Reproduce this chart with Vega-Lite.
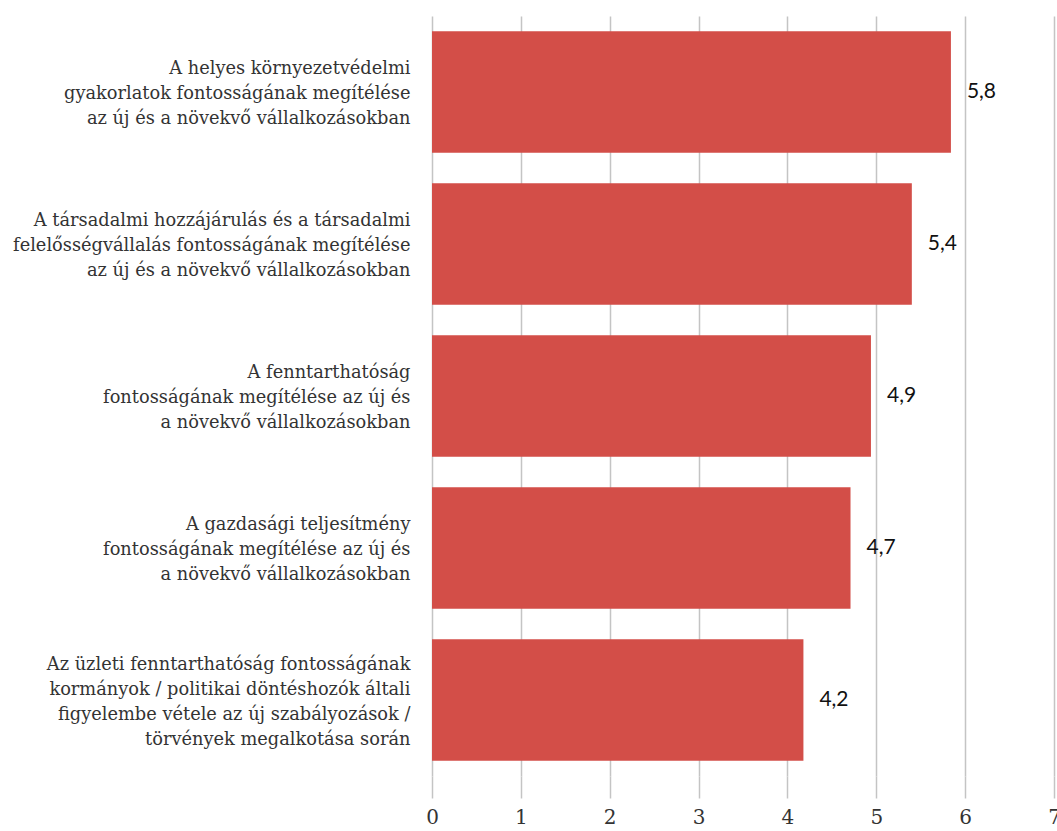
{
  "$schema": "https://vega.github.io/schema/vega-lite/v6.json",
  "width": 622,
  "height": 760,
  "autosize": "none",
  "padding": {"left": 432, "top": 16, "right": 3, "bottom": 55},
  "background": "white",
  "config": {
    "view": {"stroke": null},
    "locale": {"number": {"decimal": ",", "thousands": " ", "grouping": [3], "currency": ["", " Ft"]}}
  },
  "data": {
    "values": [
      {"kategoria": "A helyes környezetvédelmi|gyakorlatok fontosságának megítélése|az új és a növekvő vállalkozásokban", "ertek": 5.84},
      {"kategoria": "A társadalmi hozzájárulás és a társadalmi|felelősségvállalás fontosságának megítélése|az új és a növekvő vállalkozásokban", "ertek": 5.40},
      {"kategoria": "A fenntarthatóság|fontosságának megítélése az új és|a növekvő vállalkozásokban", "ertek": 4.94},
      {"kategoria": "A gazdasági teljesítmény|fontosságának megítélése az új és|a növekvő vállalkozásokban", "ertek": 4.71},
      {"kategoria": "Az üzleti fenntarthatóság fontosságának|kormányok / politikai döntéshozók általi|figyelembe vétele az új szabályozások /|törvények megalkotása során", "ertek": 4.18}
    ]
  },
  "encoding": {
    "y": {
      "field": "kategoria",
      "type": "nominal",
      "sort": null,
      "scale": {"paddingInner": 0.2, "paddingOuter": 0.1},
      "axis": {
        "title": null,
        "domain": false,
        "ticks": false,
        "labelExpr": "split(datum.label, '|')",
        "labelFont": "DejaVu Serif",
        "labelFontSize": 17.8,
        "labelColor": "#333333",
        "labelLineHeight": 25,
        "labelPadding": 22,
        "labelLimit": 430,
        "labelOffset": {
          "condition": {"test": "length(split(datum.value, '|')) > 3", "value": -35},
          "value": -23
        }
      }
    },
    "x": {
      "field": "ertek",
      "type": "quantitative",
      "scale": {"domain": [0, 7], "nice": false},
      "axis": {
        "title": null,
        "values": [0, 1, 2, 3, 4, 5, 6, 7],
        "format": "d",
        "domain": false,
        "grid": true,
        "gridColor": "#c4c4c4",
        "gridWidth": 1.5,
        "tickColor": "#c4c4c4",
        "tickWidth": 1.5,
        "tickSize": 22,
        "labelFont": "DejaVu Serif",
        "labelFontSize": 20,
        "labelColor": "#333333",
        "labelPadding": 9,
        "labelFlush": false,
        "labelOverlap": false
      }
    }
  },
  "layer": [
    {"mark": {"type": "bar", "color": "#D34E48"}},
    {
      "mark": {"type": "text", "align": "left", "baseline": "middle", "dx": 16, "font": "Lato", "fontSize": 21, "color": "#111111"},
      "encoding": {"text": {"field": "ertek", "type": "quantitative", "format": ".1f"}}
    }
  ]
}
